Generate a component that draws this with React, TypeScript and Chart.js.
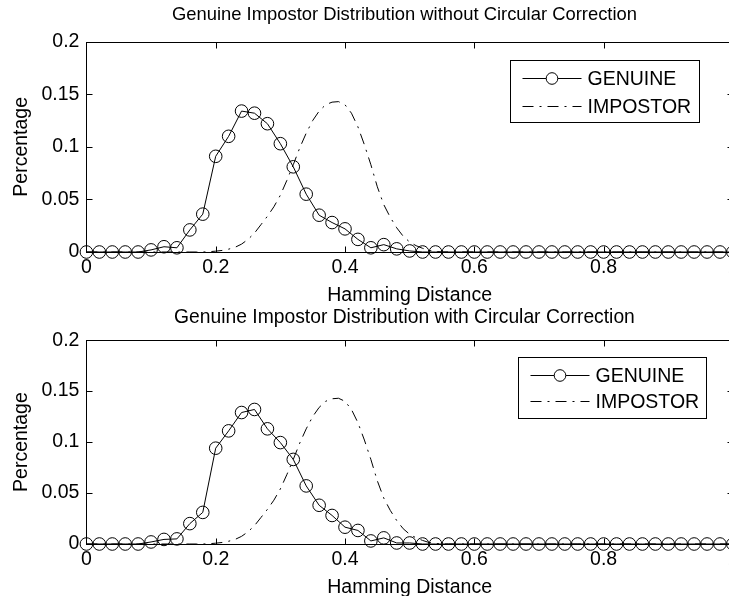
import React, { useEffect, useRef } from "react";
import { Chart, registerables } from "chart.js";

Chart.register(...registerables);

// ---------- data ----------
const HD = [
  0, 0.02, 0.04, 0.06, 0.08, 0.1, 0.12, 0.14, 0.16, 0.18, 0.2, 0.22, 0.24, 0.26, 0.28, 0.3, 0.32,
  0.34, 0.36, 0.38, 0.4, 0.42, 0.44, 0.46, 0.48, 0.5, 0.52, 0.54, 0.56, 0.58, 0.6, 0.62, 0.64,
  0.66, 0.68, 0.7, 0.72, 0.74, 0.76, 0.78, 0.8, 0.82, 0.84, 0.86, 0.88, 0.9, 0.92, 0.94, 0.96,
  0.98, 1,
];

const GENUINE_NO_CORRECTION = [
  0, 0, 0, 0, 0, 0.002, 0.005, 0.004, 0.021, 0.036, 0.091, 0.11, 0.134, 0.132, 0.122, 0.103,
  0.081, 0.055, 0.035, 0.028, 0.022, 0.012, 0.004, 0.007, 0.003, 0.001, 0, 0, 0, 0, 0, 0, 0, 0,
  0, 0, 0, 0, 0, 0, 0, 0, 0, 0, 0, 0, 0, 0, 0, 0, 0,
];

const GENUINE_CORRECTION = [
  0, 0, 0, 0, 0, 0.002, 0.0045, 0.005, 0.02, 0.031, 0.094, 0.111, 0.129, 0.132, 0.113, 0.0995,
  0.083, 0.057, 0.038, 0.028, 0.0165, 0.0133, 0.003, 0.006, 0.001, 0.001, 0, 0, 0, 0, 0, 0, 0, 0,
  0, 0, 0, 0, 0, 0, 0, 0, 0, 0, 0, 0, 0, 0, 0, 0, 0,
];

const IMP_HD = [
  0, 0.16, 0.17, 0.18, 0.19, 0.2, 0.21, 0.22, 0.23, 0.24, 0.25, 0.26, 0.27, 0.28, 0.29, 0.3,
  0.31, 0.32, 0.33, 0.34, 0.35, 0.36, 0.37, 0.38, 0.39, 0.4, 0.41, 0.42, 0.43, 0.44, 0.45, 0.46,
  0.47, 0.48, 0.49, 0.5, 0.51, 0.52, 0.53, 0.54, 0.55, 0.56, 1,
];

const IMPOSTOR = [
  0, 0, 0, 0, 0.0003, 0.0008, 0.0015, 0.0027, 0.0045, 0.0075, 0.012, 0.018, 0.026, 0.034, 0.043,
  0.054, 0.068, 0.083, 0.099, 0.113, 0.125, 0.134, 0.14, 0.1425, 0.143, 0.14, 0.132, 0.119, 0.102,
  0.083, 0.062, 0.045, 0.033, 0.023, 0.015, 0.0095, 0.006, 0.0035, 0.0015, 0.0005, 0, 0, 0,
];

const X_TICKS = [0, 0.2, 0.4, 0.6, 0.8, 1];
const Y_TICKS = [0, 0.05, 0.1, 0.15, 0.2];
const TITLES = [
  "Genuine Impostor Distribution without Circular Correction",
  "Genuine Impostor Distribution with Circular Correction",
];
const SERIES_NAMES = ["GENUINE", "IMPOSTOR"];
const X_LABEL = "Hamming Distance";
const Y_LABEL = "Percentage";

// ---------- styling ----------
const FONT = "'Liberation Sans', Arial, Helvetica, sans-serif";
const CANVAS_W = 760;
const CANVAS_H = 312;
const PAD_LEFT = 76;
const AREA_LEFT = 86.4;
const AREA_RIGHT = 732.9;
const TICK_LEN = 6;
const fmt = (v: number) => String(Math.round(v * 1000) / 1000);

// widen the y-scale box back to the canvas edge after layout (the left padding only
// serves to centre the title like the original figure)
const yBoxPlugin = {
  id: "yBox",
  afterLayout(chart: any) {
    const y = chart.scales.y;
    y.left = 0;
    y.width = y.right;
  },
};

const framePlugin = {
  id: "matlabFrame",
  beforeDatasetsDraw(chart: any) {
    const { ctx, chartArea: a, scales } = chart;
    const L = Math.round(a.left) + 0.5;
    const R = Math.round(a.right) + 0.5;
    const T = Math.round(a.top) + 0.5;
    const B = Math.round(a.bottom) + 0.5;
    ctx.save();
    ctx.strokeStyle = "#000";
    ctx.lineWidth = 1;
    ctx.strokeRect(L, T, R - L, B - T);
    ctx.beginPath();
    for (const t of scales.x.ticks) {
      const px = Math.round(scales.x.getPixelForValue(t.value)) + 0.5;
      ctx.moveTo(px, B);
      ctx.lineTo(px, B - TICK_LEN);
      ctx.moveTo(px, T);
      ctx.lineTo(px, T + TICK_LEN);
    }
    for (const t of scales.y.ticks) {
      const py = Math.round(scales.y.getPixelForValue(t.value)) + 0.5;
      ctx.moveTo(L, py);
      ctx.lineTo(L + TICK_LEN, py);
      ctx.moveTo(R, py);
      ctx.lineTo(R - TICK_LEN, py);
    }
    ctx.stroke();
    ctx.restore();
  },
};

const boxLegendPlugin = {
  id: "boxLegend",
  afterDraw(chart: any, _args: any, opts: any) {
    const { ctx, chartArea: a } = chart;
    const w = opts.width;
    const h = opts.height;
    const bx = Math.round(a.right - opts.rightOffset - w) + 0.5;
    const by = Math.round(a.top + opts.topOffset) + 0.5;
    ctx.save();
    ctx.fillStyle = "#fff";
    ctx.fillRect(bx, by, w, h);
    ctx.strokeStyle = "#000";
    ctx.lineWidth = 1;
    ctx.strokeRect(bx, by, w, h);
    const rows = [by + opts.row1, by + opts.row2];
    chart.data.datasets.forEach((ds: any, i: number) => {
      const y = Math.round(rows[i]) + 0.5;
      ctx.save();
      ctx.strokeStyle = ds.borderColor;
      ctx.lineWidth = ds.borderWidth;
      ctx.setLineDash(ds.borderDash || []);
      ctx.beginPath();
      ctx.moveTo(bx + 12, y);
      ctx.lineTo(bx + 71, y);
      ctx.stroke();
      ctx.setLineDash([]);
      if (ds.pointRadius > 0) {
        ctx.beginPath();
        ctx.arc(bx + 41.5, y, ds.pointRadius - 0.5, 0, Math.PI * 2);
        ctx.fillStyle = "#fff";
        ctx.fill();
        ctx.stroke();
      }
      ctx.restore();
      ctx.fillStyle = "#000";
      ctx.font = `19.5px ${FONT}`;
      ctx.textBaseline = "middle";
      ctx.textAlign = "left";
      ctx.fillText(ds.label, bx + 77, y + 1);
    });
    ctx.restore();
  },
};

function makeConfig(
  title: string,
  titleSize: number,
  genuine: number[],
  titlePad: { top: number; bottom: number },
  areaBottom: number,
  xTitlePadBottom: number,
  legend: any
): any {
  const tickFont = { family: FONT, size: 19.5 };
  return {
    type: "line",
    data: {
      datasets: [
        {
          label: SERIES_NAMES[0],
          data: HD.map((x, i) => ({ x, y: genuine[i] })),
          borderColor: "#000",
          borderWidth: 1,
          pointRadius: 6.3,
          pointBorderColor: "#000",
          pointBackgroundColor: "rgba(0,0,0,0)",
          pointBorderWidth: 1,
          fill: false,
          tension: 0,
          clip: false,
        },
        {
          label: SERIES_NAMES[1],
          data: IMP_HD.map((x, i) => ({ x, y: IMPOSTOR[i] })),
          borderColor: "#000",
          borderWidth: 1,
          borderDash: [11, 6, 2, 6],
          pointRadius: 0,
          fill: false,
          tension: 0,
          clip: false,
        },
      ],
    },
    options: {
      animation: false,
      responsive: false,
      devicePixelRatio: 1,
      events: [],
      layout: { padding: { left: PAD_LEFT, right: CANVAS_W - AREA_RIGHT, top: 0, bottom: 0 } },
      plugins: {
        legend: { display: false },
        tooltip: { enabled: false },
        title: {
          display: true,
          text: title,
          color: "#000",
          font: { family: FONT, size: titleSize, weight: "normal" },
          padding: titlePad,
        },
        boxLegend: legend,
      },
      scales: {
        x: {
          type: "linear",
          min: 0,
          max: 1,
          grid: { display: false, drawTicks: false },
          border: { display: false },
          ticks: {
            color: "#000",
            font: tickFont,
            padding: 4,
            maxRotation: 0,
            autoSkip: false,
            callback: (v: number) => fmt(v),
          },
          afterBuildTicks: (s: any) => {
            s.ticks = X_TICKS.map((v) => ({ value: v }));
          },
          afterFit: (s: any) => {
            s.height = CANVAS_H - areaBottom;
          },
          title: {
            display: true,
            text: X_LABEL,
            color: "#000",
            font: tickFont,
            padding: { top: 0, bottom: xTitlePadBottom },
          },
        },
        y: {
          type: "linear",
          min: 0,
          max: 0.2,
          grid: { display: false, drawTicks: false },
          border: { display: false },
          ticks: {
            color: "#000",
            font: tickFont,
            padding: 7,
            autoSkip: false,
            callback: (v: number) => fmt(v),
          },
          afterBuildTicks: (s: any) => {
            s.ticks = Y_TICKS.map((v) => ({ value: v }));
          },
          afterFit: (s: any) => {
            s.width = AREA_LEFT - PAD_LEFT;
          },
          title: {
            display: true,
            text: Y_LABEL,
            color: "#000",
            font: tickFont,
            padding: { top: 22 - 11.7, bottom: 0 },
          },
        },
      },
    },
    plugins: [yBoxPlugin, framePlugin, boxLegendPlugin],
  };
}

export default function App() {
  const topRef = useRef<HTMLCanvasElement | null>(null);
  const botRef = useRef<HTMLCanvasElement | null>(null);

  useEffect(() => {
    const c1 = new Chart(
      topRef.current as HTMLCanvasElement,
      makeConfig(TITLES[0], 18.4, GENUINE_NO_CORRECTION, { top: 4, bottom: 15.6 }, 252, 4.5, {
        rightOffset: 34,
        topOffset: 18,
        width: 189,
        height: 62,
        row1: 17.4,
        row2: 45,
      })
    );
    const c2 = new Chart(
      botRef.current as HTMLCanvasElement,
      makeConfig(TITLES[1], 19.3, GENUINE_CORRECTION, { top: 6, bottom: 11 }, 244, 12.5, {
        rightOffset: 27,
        topOffset: 16.5,
        width: 188,
        height: 61,
        row1: 17.3,
        row2: 43.8,
      })
    );
    return () => {
      c1.destroy();
      c2.destroy();
    };
  }, []);

  return (
    <div
      style={{
        position: "absolute",
        left: 0,
        top: 0,
        width: 729,
        height: 596,
        overflow: "hidden",
        background: "#fff",
      }}
    >
      <canvas
        ref={topRef}
        width={CANVAS_W}
        height={CANVAS_H}
        style={{ position: "absolute", left: 0, top: 0, width: CANVAS_W, height: CANVAS_H }}
      />
      <canvas
        ref={botRef}
        width={CANVAS_W}
        height={CANVAS_H}
        style={{ position: "absolute", left: 0, top: 300, width: CANVAS_W, height: CANVAS_H }}
      />
    </div>
  );
}
